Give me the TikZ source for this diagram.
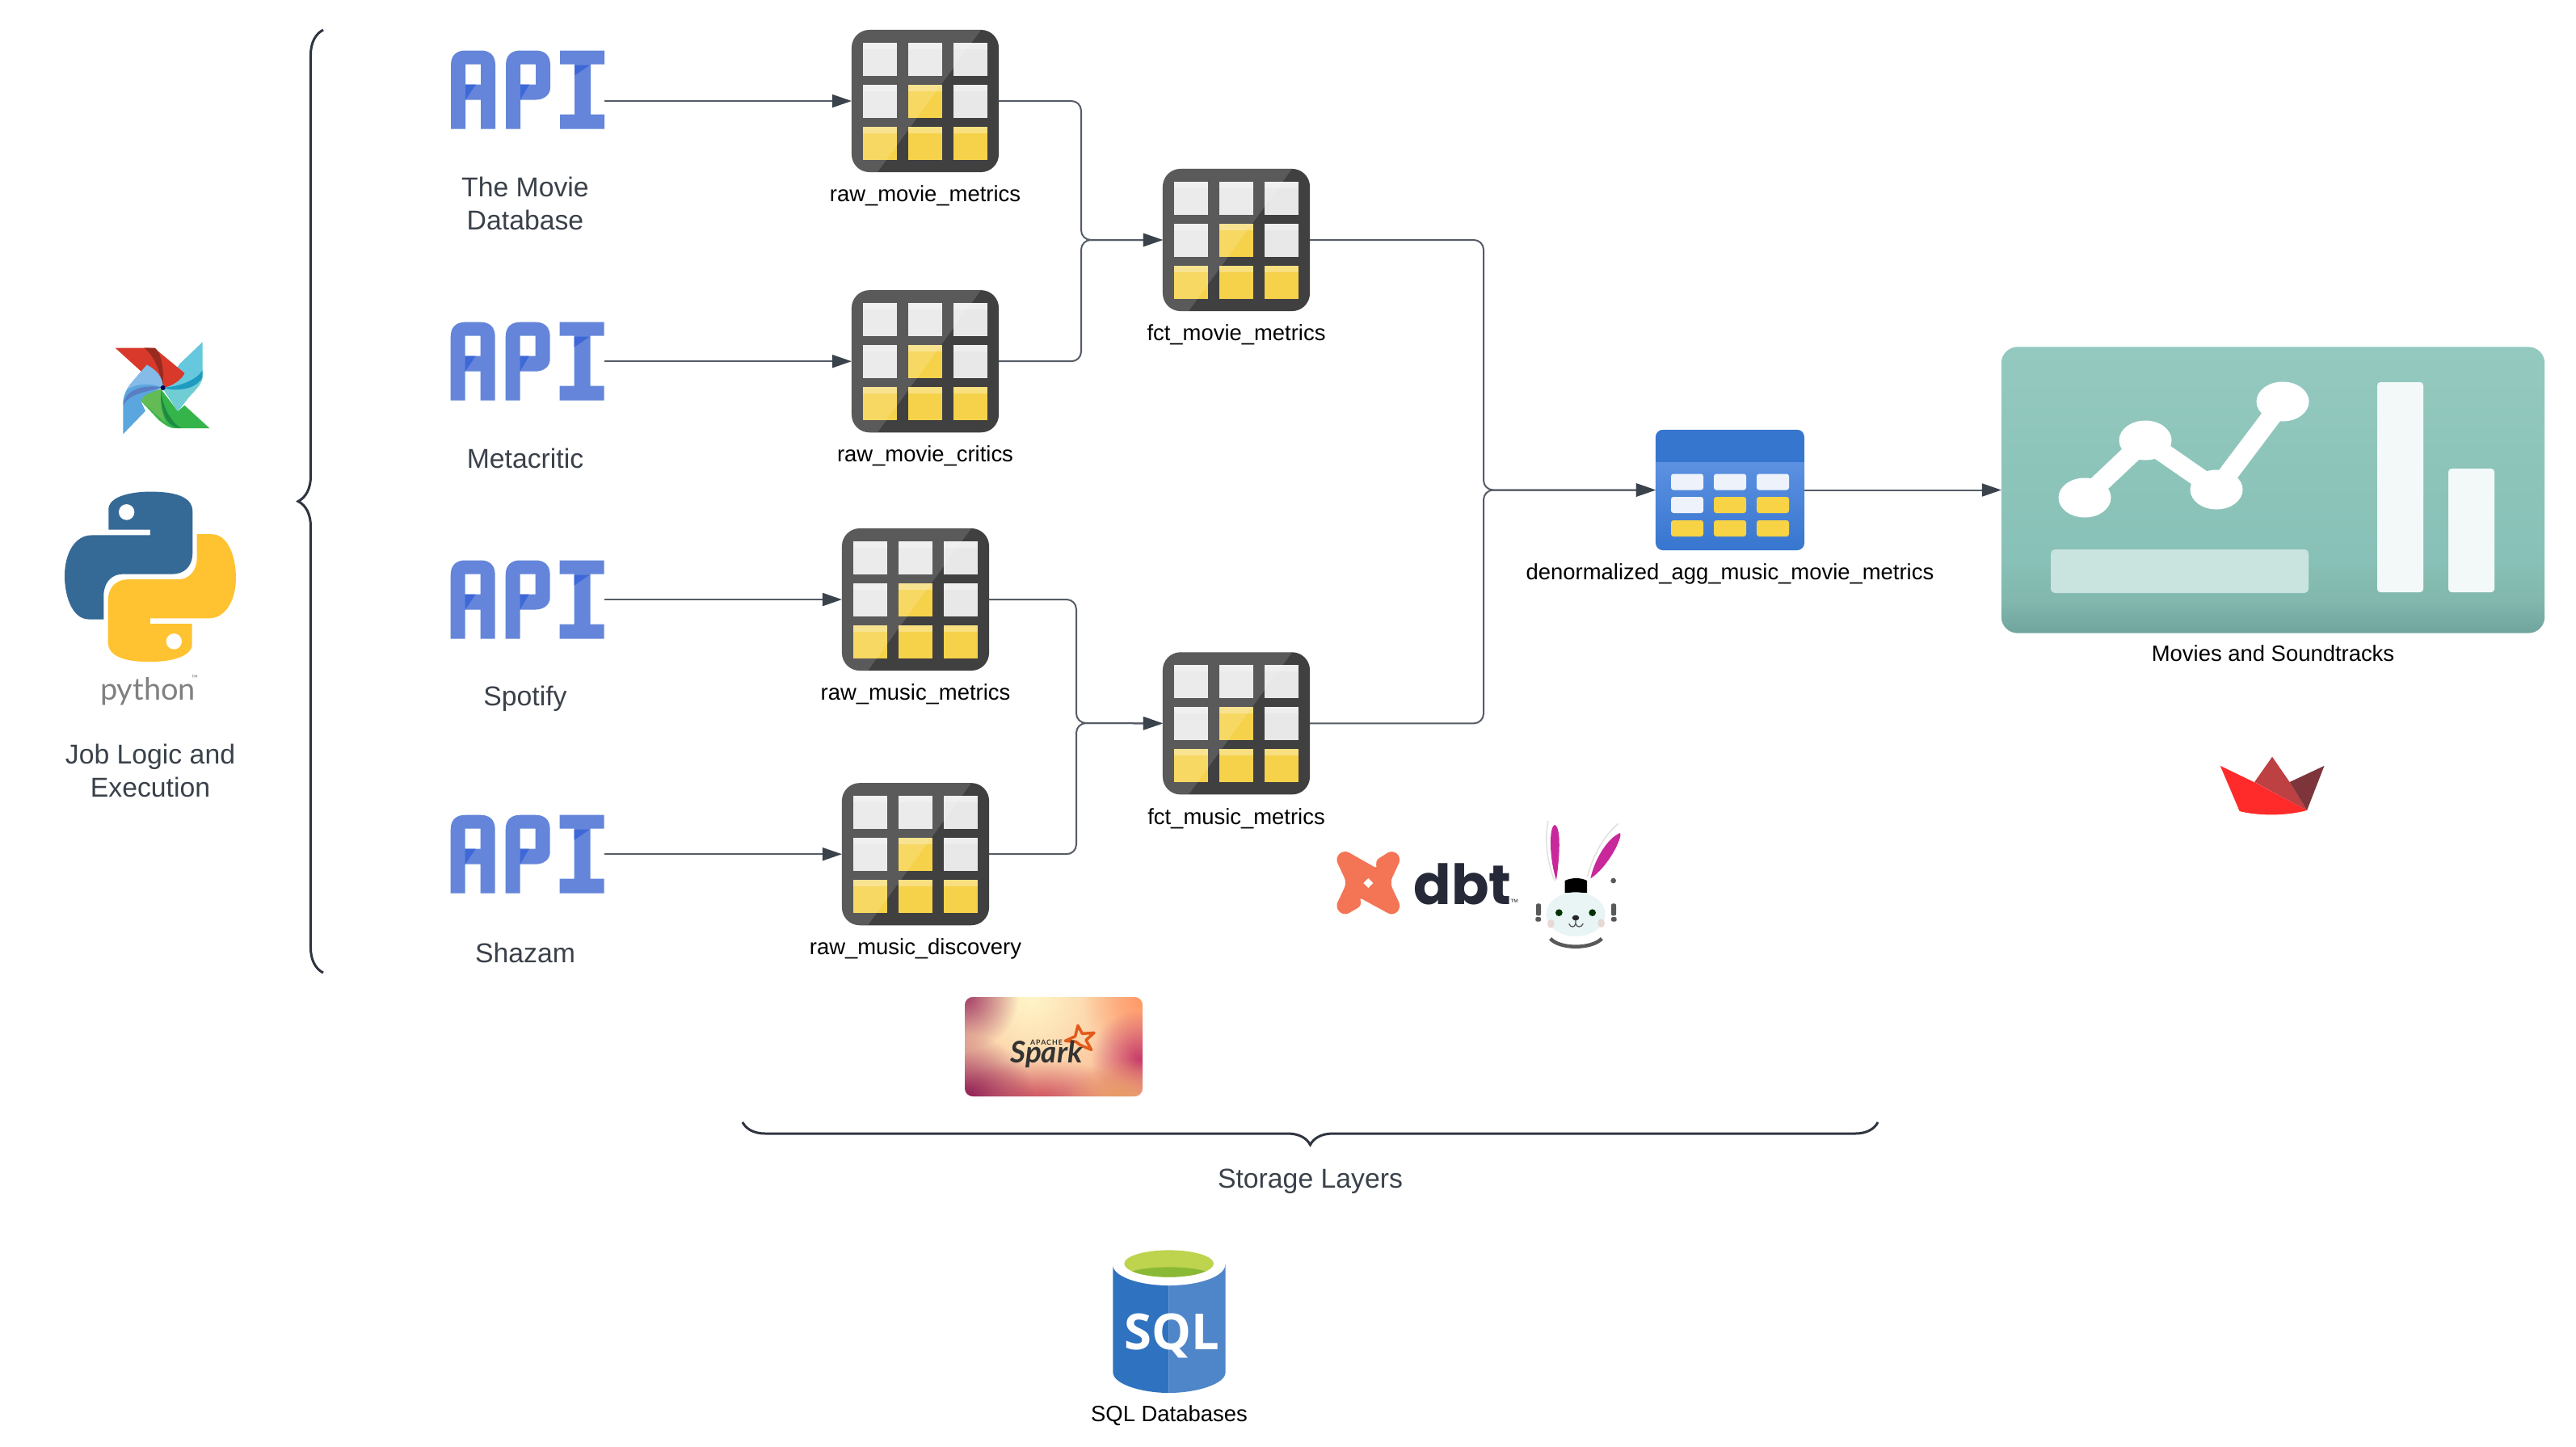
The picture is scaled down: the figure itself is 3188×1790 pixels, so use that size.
\documentclass[tikz,border=0pt]{standalone}
\usepackage{fontspec}
\setmainfont{Liberation Sans}
\newfontfamily\dbtfont{Poppins}
\newfontfamily\lato{Lato}
\newfontfamily\sqlfont{Open Sans}
\usepackage{tikz}
\usetikzlibrary{positioning,arrows.meta,fadings,decorations.pathreplacing}
\usepackage{xcolor}

\definecolor{textgray}{HTML}{3A414A}
\definecolor{linegray}{HTML}{555C66}
\definecolor{tipgray}{HTML}{3A424C}
\definecolor{bracegray}{HTML}{2F3540}
\definecolor{apiblue}{HTML}{6485D9}
\definecolor{apidark}{HTML}{3E68D8}
\definecolor{celldark}{HTML}{404040}
\definecolor{cellgray}{HTML}{E8E8E8}
\definecolor{cellyellow}{HTML}{F5D24A}
\definecolor{denhead}{HTML}{3776CF}
\definecolor{dentop}{HTML}{6A9AE8}
\definecolor{dencell}{HTML}{EDF2FB}
\definecolor{dengold}{HTML}{F7D345}
\definecolor{dashtop}{HTML}{94C9BF}
\definecolor{dashmid}{HTML}{88C1B7}
\definecolor{dashlow}{HTML}{82B8AE}
\definecolor{dashend}{HTML}{6FA59C}
\definecolor{afred}{HTML}{D8392A}
\definecolor{afdred}{HTML}{982A1F}
\definecolor{afcyan}{HTML}{66C8DC}
\definecolor{afteal}{HTML}{1F9BC0}
\definecolor{afpale}{HTML}{70CDD3}
\definecolor{afgreen}{HTML}{35B44A}
\definecolor{aflime}{HTML}{62BB55}
\definecolor{afdgreen}{HTML}{1D8C43}
\definecolor{afblue}{HTML}{5BA6DE}
\definecolor{afsky}{HTML}{85BBE8}
\definecolor{afnavy}{HTML}{5A7DC4}

\pgfdeclareverticalshading{dashshade}{100bp}{color(0bp)=(dashend); color(25bp)=(dashend);
  color(31bp)=(dashlow); color(38bp)=(dashmid); color(75bp)=(dashtop); color(100bp)=(dashtop)}
\tikzfading[name=softspot, inner color=transparent!0, outer color=transparent!100]

\newcommand{\tablecells}{%
  \begin{scope}[sharp corners]
    \foreach \col/\row/\cellcol in {-56/-52/cellgray, 0/-52/cellgray, 56/-52/cellgray,
        -56/0/cellgray, 0/0/cellyellow, 56/0/cellgray,
        -56/52/cellyellow, 0/52/cellyellow, 56/52/cellyellow}{
      \fill[\cellcol] (\col-21,\row-20.5) rectangle (\col+21,\row+20.5);
      \fill[white, opacity=.3] (\col-21,\row-20.5) rectangle (\col+21,\row-12.5);
    }
    \fill[white, opacity=.14] (-91,-88) -- (69,-88) -- (-59,88) -- (-91,88) -- cycle;
  \end{scope}}

\newcommand{\apiglyph}{%
  \begin{scope}[sharp corners]
    \fill[apiblue, even odd rule] (-95,48.5) -- (-95,-30.5) .. controls (-95,-43.5) and (-87,-48.5) .. (-77,-48.5) -- (-58,-48.5)
      .. controls (-48,-48.5) and (-40,-43.5) .. (-40,-30.5) -- (-40,48.5) -- (-58,48.5) -- (-58,12.5) -- (-77,12.5) -- (-77,48.5) -- cycle
      (-77,-31.5) rectangle (-58,-6.5);
    \fill[apidark] (-77,-6.5) -- (-64,-6.5) -- (-77,12.5) -- cycle;
    \fill[apiblue, even odd rule] (-27,48.5) -- (-27,-30.5) .. controls (-27,-43.5) and (-19,-48.5) .. (-9,-48.5) -- (10,-48.5)
      .. controls (20,-48.5) and (28,-43.5) .. (28,-30.5) -- (28,-2.5) .. controls (28,6.5) and (20,12.5) .. (10,12.5)
      -- (-9,12.5) -- (-9,48.5) -- cycle (-9,-31.5) rectangle (10,-6.5);
    \fill[apidark] (-9,-6.5) -- (2,-6.5) -- (-9,12.5) -- cycle;
    \fill[apiblue] (40,-48.5) rectangle (95,-31.5) (58,-31.5) rectangle (78,30.5) (40,30.5) rectangle (95,48.5);
    \fill[apidark] (58,-30.5) -- (77,-30.5) -- (58,-17.5) -- cycle;
  \end{scope}}

\newcommand{\dencells}{%
  \begin{scope}[sharp corners]
    \fill[denhead] (-92,-75) rectangle (92,-35);
    \foreach \col/\row/\cellcol in {-53/-10/dencell, 0/-10/dencell, 53/-10/dencell,
        -53/18.5/dencell, 0/18.5/dengold, 53/18.5/dengold,
        -53/47.5/dengold, 0/47.5/dengold, 53/47.5/dengold}{
      \fill[\cellcol, rounded corners=0.03cm] (\col-20,\row-10) rectangle (\col+20,\row+10);
    }
  \end{scope}}

\newcommand{\pysnake}{%
  (403,675) -- (403,610) .. controls (410,570) and (500,560) .. (558,560)
  .. controls (650,560) and (715,575) .. (715,620) -- (715,745) .. controls (715,790) and (680,810) .. (640,810)
  -- (455,810) .. controls (415,810) and (385,835) .. (385,875) -- (385,947) -- (330,947)
  .. controls (270,947) and (240,880) .. (240,815) .. controls (240,745) and (280,692) .. (340,692)
  -- (558,692) -- (558,675) -- cycle}

\begin{document}
\begin{tikzpicture}[
  x=0.01cm, y=-0.01cm,
  apinode/.style={rectangle, minimum width=1.9cm, minimum height=0.97cm, inner sep=0pt, outer sep=0pt,
                  path picture={\apiglyph}},
  tablenode/.style={rectangle, rounded corners=0.22cm, minimum width=1.82cm, minimum height=1.76cm,
                  inner sep=0pt, outer sep=0pt, fill=celldark, path picture={\tablecells}},
  biglabel/.style={align=center, inner sep=0pt, text=textgray, font=\fontsize{9.6}{11.6}\selectfont},
  smalllabel/.style={align=center, inner sep=0pt, outer sep=0pt, text=black, text height=6pt, text depth=2pt,
                  font=\fontsize{7.8}{9.4}\selectfont},
  flow/.style={draw=linegray, line width=0.02cm, rounded corners=0.12cm,
               -{Triangle[length=0.24cm, width=0.16cm, color=tipgray]}},
  bigbrace/.style={draw=bracegray, line width=0.03cm, decorate},
  ]
  \useasboundingbox (0,0) rectangle (3188,1790);

  % sources
  \node[tablenode] (rawmm) at (1145,125) {};
  \node[tablenode, below=1.46cm of rawmm] (rawmc) {};
  \node[tablenode] (rawmum) at (1133,742) {};
  \node[tablenode, below=1.39cm of rawmum] (rawmd) {};
  \node[apinode] (tmdb) at (653,111) {};
  \node[apinode, left=3.06cm of rawmc] (meta) {};
  \node[apinode, left=2.94cm of rawmum] (spot) {};
  \node[apinode, left=2.94cm of rawmd] (shaz) {};
  \node[biglabel] (tmdbl) at (650,252) {The Movie\\Database};
  \node[biglabel] (metal) at (650,567) {Metacritic};
  \node[biglabel] (spotl) at (650,865) {Spotify};
  \node[biglabel] (shazl) at (650,1179) {Shazam};

  % fact tables
  \node[tablenode] (fctmovie) at (1530,297) {};
  \node[tablenode, below=4.22cm of fctmovie] (fctmusic) {};
  \node[smalllabel, below=0.155cm of rawmm] (rawmml) {raw\_movie\_metrics};
  \node[smalllabel, below=0.155cm of rawmc] (rawmcl) {raw\_movie\_critics};
  \node[smalllabel, below=0.155cm of rawmum] (rawmuml) {raw\_music\_metrics};
  \node[smalllabel, below=0.155cm of rawmd] (rawmdl) {raw\_music\_discovery};
  \node[smalllabel, below=0.155cm of fctmovie] (fctmoviel) {fct\_movie\_metrics};
  \node[smalllabel, below=0.155cm of fctmusic] (fctmusicl) {fct\_music\_metrics};

  % aggregate and dashboard
  \node[rectangle, rounded corners=0.09cm, minimum width=1.84cm, minimum height=1.49cm, inner sep=0pt, outer sep=0pt,
        top color=dentop, bottom color=denhead, path picture={\dencells}] (denorm) at (2141,606.5) {};
  \node[smalllabel, below=0.155cm of denorm] (denorml) {denormalized\_agg\_music\_movie\_metrics};
  \node[rectangle, rounded corners=0.2cm, minimum width=6.72cm, minimum height=3.54cm, inner sep=0pt, outer sep=0pt,
        shading=dashshade] (dash) at (2813,606.5) {};
  \node[smalllabel, below=0.14cm of dash] (dashl) {Movies and Soundtracks};
  \draw[white, line width=0.24cm] (2580,616) -- (2655,545) -- (2743,606) -- (2825,497);
  \fill[white] (2580,616) ellipse [x radius=32.5, y radius=24.5]
               (2655,545) ellipse [x radius=32.5, y radius=24.5]
               (2743,606) ellipse [x radius=32.5, y radius=24.5]
               (2825,497) ellipse [x radius=32.5, y radius=24.5];
  \fill[fill=white!55!dashmid, rounded corners=0.05cm] (2538,680) rectangle (2857,734);
  \fill[fill=white!90!dashmid, rounded corners=0.04cm] (2942,473) rectangle (2999,733);
  \fill[fill=white!90!dashmid, rounded corners=0.04cm] (3030,580) rectangle (3087,733);

  % connectors
  \coordinate (jmovie) at (1338,297);
  \coordinate (jmusic) at (1332,895);
  \coordinate (jagg) at (1836,606.5);
  \draw[flow] (tmdb.east |- rawmm.west) -- (rawmm.west);
  \draw[flow] (meta.east |- rawmc.west) -- (rawmc.west);
  \draw[flow] (spot.east |- rawmum.west) -- (rawmum.west);
  \draw[flow] (shaz.east |- rawmd.west) -- (rawmd.west);
  \draw[flow] (rawmm.east) -| (jmovie) -- (fctmovie.west);
  \draw[flow] (rawmc.east) -| (jmovie) -- (fctmovie.west);
  \draw[flow] (rawmum.east) -| (jmusic) -- (fctmusic.west);
  \draw[flow] (rawmd.east) -| (jmusic) -- (fctmusic.west);
  \draw[flow] (fctmovie.east) -| (jagg) -- (denorm.west);
  \draw[flow] (fctmusic.east) -| (jagg) -- (denorm.west);
  \draw[flow] (denorm.east) -- (dash.west);

  % braces
  \draw[bigbrace, decoration={brace, amplitude=0.31cm}] (400,1204) -- (400,37);
  \draw[bigbrace, decoration={brace, amplitude=0.28cm}] (2324,1389) -- (919,1389);
  \node[biglabel] (storage) at (1621.5,1462) {Storage Layers};

  % airflow
  \begin{scope}[shift={(120,410)}, scale=1/3]
    \fill[afgreen] (162,258) -- (178,238) -- (238,215) -- (300,297) -- (325,275) -- (418,360) -- (290,360)
      .. controls (265,360) and (250,345) .. (230,330) -- cycle;
    \fill[aflime] (162,258) -- (178,238) .. controls (195,225) and (220,218) .. (238,215)
      .. controls (235,290) and (250,335) .. (262,347) -- cycle;
    \fill[afdgreen] (238,220) .. controls (232,300) and (260,358) .. (312,360) .. controls (280,340) and (245,290) .. (238,220) -- cycle;
    \fill[afcyan] (392,40) -- (392,150) .. controls (392,190) and (370,215) .. (345,240) -- (300,297) -- (245,212) -- (308,120) -- cycle;
    \fill[afpale] (245,214) .. controls (300,225) and (370,215) .. (392,170) .. controls (392,190) and (370,215) .. (345,240) -- (300,297) -- cycle;
    \fill[afteal] (392,145) .. controls (370,180) and (310,205) .. (245,210) .. controls (300,225) and (370,215) .. (392,170) -- cycle;
    \fill[afred] (68,62) -- (195,62) .. controls (215,62) and (225,72) .. (240,85) -- (325,155)
      .. controls (320,175) and (280,205) .. (245,210) -- (165,150) -- cycle;
    \fill[afdred] (175,62) -- (215,62) .. controls (235,75) and (250,130) .. (245,210) .. controls (232,130) and (205,85) .. (175,62) -- cycle;
    \fill[afblue] (97,382) -- (97,265) .. controls (97,240) and (110,215) .. (125,195) -- (185,125)
      .. controls (225,145) and (245,175) .. (245,208) -- (178,238) -- (162,258) -- (180,296) -- cycle;
    \fill[afsky] (185,125) .. controls (225,145) and (245,175) .. (245,208) .. controls (190,190) and (140,195) .. (110,218) -- (125,195) -- cycle;
    \fill[afnavy] (97,275) .. controls (100,230) and (150,195) .. (240,208) .. controls (195,225) and (125,225) .. (97,275) -- cycle;
    \fill[black!70!blue] (245,210) circle [radius=9];
  \end{scope}

  % python
  \begin{scope}[shift={(0,380)}, xscale=1/3, yscale=1/2.45]
    \fill[fill={rgb,255:red,54;green,106;blue,150}] \pysnake;
    \fill[white] (470,622) ellipse [x radius=29, y radius=24];
    \begin{scope}[shift={(1116,1636)}, xscale=-1, yscale=-1]
      \fill[fill={rgb,255:red,255;green,195;blue,49}] \pysnake;
      \fill[white] (470,622) ellipse [x radius=29, y radius=24];
    \end{scope}
  \end{scope}
  \node[inner sep=0pt, text=gray, font=\lato\fontsize{10.8}{13}\selectfont] (pyname) at (183,856) {python};
  \node[inner sep=0pt, text=gray, font=\lato\fontsize{3}{3}\selectfont] (pytm) at (241,840) {™};
  \node[biglabel] (jobl) at (186,954) {Job Logic and\\Execution};

  % dbt
  \fill[fill={rgb,255:red,243;green,117;blue,85}, rounded corners=0.07cm] (1652.3,1061.7) -- (1663.3,1051.7) -- (1706,1076) -- (1700.7,1066)
    -- (1723.3,1051.7) -- (1734.3,1061.7) -- (1720,1092.7) -- (1734.3,1123.3) -- (1724,1133.7) -- (1680.7,1110)
    -- (1686.7,1120) -- (1663.3,1133.7) -- (1652.3,1123.3) -- (1666.7,1092.7) -- cycle;
  \fill[white] (1693.3,1087) -- (1699.3,1093) -- (1693.3,1099) -- (1687.3,1093) -- cycle;
  \node[inner sep=0pt, text={rgb,255:red,38;green,42;blue,56}, font=\dbtfont\bfseries\fontsize{19.5}{22}\selectfont] (dbtname) at (1810,1094) {dbt};
  \node[inner sep=0pt, text=bracegray, font=\fontsize{3}{3}\selectfont] (dbttm) at (1874,1117) {™};

  % bunny
  \begin{scope}[shift={(1620,980)}, scale=1/3]
    \draw[black!12, line width=0.015cm] (912,330) .. controls (880,250) and (875,170) .. (888,108);
    \draw[black!12, line width=0.015cm] (1033,315) .. controls (1060,220) and (1100,160) .. (1148,118);
    \fill[fill={rgb,255:red,201;green,40;blue,155}] (918,328) .. controls (892,250) and (890,130) .. (912,123) .. controls (938,130) and (930,250) .. (918,328) -- cycle;
    \fill[fill={rgb,255:red,201;green,40;blue,155}] (1045,322) .. controls (1060,250) and (1110,170) .. (1155,153) .. controls (1165,170) and (1110,280) .. (1045,322) -- cycle;
    \fill[black] (950,375) -- (950,330) .. controls (975,318) and (1010,318) .. (1032,330) -- (1032,375) -- cycle;
    \fill[black!65] (1130,330) circle [radius=10];
    \fill[fill={rgb,255:red,233;green,245;blue,245}] (990,455) ellipse [x radius=110, y radius=82];
    \fill[fill={rgb,255:red,232;green,216;blue,212}] (898,490) ellipse [x radius=13, y radius=16] (1085,488) ellipse [x radius=13, y radius=16];
    \fill[black!80!green] (928,449) circle [radius=13] (1052,449) circle [radius=13];
    \fill[black!85] (990,468) ellipse [x radius=13, y radius=10];
    \draw[black!70, line width=0.012cm] (990,475) -- (990,490) (965,490) .. controls (972,505) and (985,505) .. (990,490) .. controls (995,505) and (1010,505) .. (1018,490);
    \fill[black!65, rounded corners=0.02cm] (843,415) rectangle (861,460) (841,465) rectangle (861,482);
    \fill[black!65, rounded corners=0.02cm] (1122,415) rectangle (1140,460) (1122,465) rectangle (1142,482);
    \draw[black!65, line width=0.045cm] (896,545) .. controls (930,585) and (1050,585) .. (1087,545);
  \end{scope}

  % streamlit
  \fill[fill={rgb,255:red,189;green,64;blue,67}] (2790,968) -- (2812,936.7) -- (2833.6,968) -- (2855,1003) -- cycle;
  \fill[fill={rgb,255:red,125;green,53;blue,59}] (2833.6,968) -- (2876.5,947.8) -- (2855,1003) -- cycle;
  \fill[fill={rgb,255:red,255;green,43;blue,43}] (2747.7,947.8) -- (2790.7,968.6) -- (2855,1002.9) .. controls (2830,1010) and (2795,1010) .. (2771.6,1004) -- cycle;

  % spark
  \begin{scope}
    \clip[rounded corners=0.1cm] (1194,1234) rectangle (1414,1357);
    \fill[fill={rgb,255:red,251;green,188;blue,150}] (1194,1234) rectangle (1414,1357);
    \fill[fill={rgb,255:red,255;green,246;blue,200}, path fading=softspot] (1130,1090) rectangle (1420,1380);
    \fill[fill={rgb,255:red,255;green,155;blue,105}, path fading=softspot] (1340,1170) rectangle (1480,1310);
    \fill[fill={rgb,255:red,200;green,60;blue,105}, path fading=softspot] (1350,1250) rectangle (1470,1370);
    \fill[fill={rgb,255:red,200;green,70;blue,90}, path fading=softspot] (1170,1310) rectangle (1400,1420);
    \fill[fill={rgb,255:red,140;green,25;blue,85}, path fading=softspot] (1110,1280) rectangle (1280,1440);
    \fill[fill={rgb,255:red,165;green,65;blue,105}, path fading=softspot] (1130,1170) rectangle (1260,1300);
    \fill[fill={rgb,255:red,232;green,155;blue,100}, path fading=softspot] (1320,1310) rectangle (1450,1410);
  \end{scope}
  \begin{scope}[shift={(1190,1230)}, scale=1/3]
    \draw[fill=none, draw={rgb,255:red,226;green,90;blue,28}, line width=0.035cm, line join=round]
      (432,118) -- (448,148) -- (492,145) -- (462,172) -- (482,208) -- (440,190) -- (425,178) -- (385,175) -- (422,158) -- cycle;
  \end{scope}
  \node[inner sep=0pt, anchor=base, text=black!80, font=\lato\bfseries\itshape\fontsize{10.5}{11}\selectfont] (sparkname) at (1295,1315) {Spark};
  \node[inner sep=0pt, anchor=base, text=black!80, font=\lato\bfseries\addfontfeature{LetterSpace=12}\fontsize{2.5}{3}\selectfont] (sparkapache) at (1295,1293) {APACHE};

  % sql
  \begin{scope}[shift={(1340,1530)}, scale=1/3]
    \fill[fill={rgb,255:red,47;green,114;blue,191}] (112,105) -- (112,505) .. controls (112,550) and (220,582) .. (320,582) -- (320,105) -- cycle;
    \fill[fill={rgb,255:red,79;green,134;blue,201}] (320,105) -- (320,582) .. controls (420,582) and (530,550) .. (530,505) -- (530,105) -- cycle;
    \fill[white] (320,105) ellipse [x radius=209, y radius=78];
    \fill[fill={rgb,255:red,190;green,211;blue,78}] (320,102) ellipse [x radius=166, y radius=50];
    \begin{scope}
      \clip (320,102) ellipse [x radius=166, y radius=50];
      \fill[fill={rgb,255:red,138;green,185;blue,53}] (320,152) ellipse [x radius=168, y radius=37];
    \end{scope}
  \end{scope}
  \node[inner sep=0pt, text=white, font=\sqlfont\bfseries\fontsize{17.5}{18}\selectfont] (sqltext) at (1450,1653) {SQL};
  \node[smalllabel] (sqll) at (1447,1752) {SQL Databases};
\end{tikzpicture}
\end{document}
